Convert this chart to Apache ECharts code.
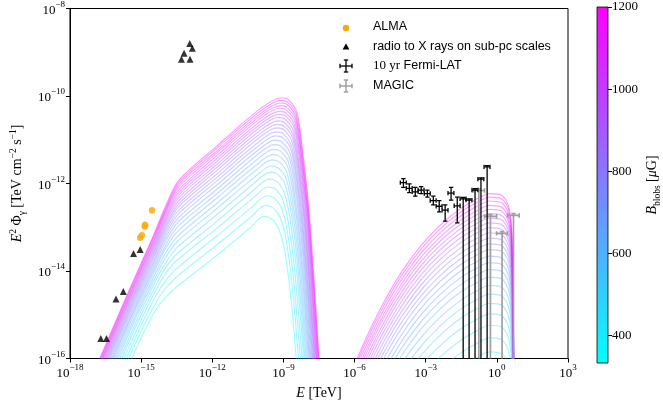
<!DOCTYPE html>
<html><head><meta charset="utf-8">
<script src="https://cdn.jsdelivr.net/npm/echarts@6/dist/echarts.min.js"></script>
<style>html,body{margin:0;padding:0;background:#fff}#c{width:663px;height:405px}</style>
</head><body><div id="c"></div>
<script>
// ---------------- data (log10 values) ----------------
const xTicks = [-18, -15, -12, -9, -6, -3, 0, 3];
const yTicks = [-16, -14, -12, -10, -8];
const cbTicks = [400, 600, 800, 1000, 1200];
const cbRange = [333, 1200];
const bField = [333, 369, 405, 441, 478, 514, 550, 586, 622, 658, 694, 730, 766, 803, 839, 875, 911, 947, 983, 1019, 1055, 1091, 1128, 1164, 1200];

// synchrotron curves, one per B value: [log E, log E^2 Phi]
const syncCurves = [
[[-15.56,-16.2],[-14.86,-15.37],[-14.37,-14.88],[-14.03,-14.63],[-13.50,-14.36],[-11.8,-13.64],[-10.40,-13.01],[-9.84,-12.75],[-9.55,-12.79],[-9.25,-12.98],[-9.00,-13.39],[-8.71,-14.48],[-8.40,-16.4]],
[[-15.69,-16.2],[-14.93,-15.29],[-14.38,-14.73],[-14.02,-14.43],[-13.49,-14.13],[-11.8,-13.40],[-10.36,-12.76],[-9.77,-12.50],[-9.48,-12.54],[-9.17,-12.74],[-8.92,-13.19],[-8.63,-14.32],[-8.31,-16.4]],
[[-15.79,-16.2],[-14.98,-15.22],[-14.40,-14.59],[-14.01,-14.25],[-13.48,-13.93],[-11.8,-13.20],[-10.33,-12.54],[-9.71,-12.28],[-9.42,-12.32],[-9.11,-12.52],[-8.86,-13.02],[-8.57,-14.19],[-8.23,-16.4]],
[[-15.89,-16.2],[-15.03,-15.16],[-14.41,-14.47],[-14.01,-14.09],[-13.48,-13.75],[-11.8,-13.02],[-10.30,-12.34],[-9.65,-12.08],[-9.36,-12.12],[-9.05,-12.34],[-8.80,-12.87],[-8.51,-14.06],[-8.16,-16.4]],
[[-15.98,-16.2],[-15.08,-15.10],[-14.42,-14.37],[-14.00,-13.95],[-13.47,-13.60],[-11.8,-12.86],[-10.27,-12.16],[-9.61,-11.90],[-9.32,-11.94],[-8.99,-12.17],[-8.74,-12.74],[-8.45,-13.95],[-8.10,-16.4]],
[[-16.06,-16.2],[-15.12,-15.05],[-14.43,-14.27],[-13.99,-13.83],[-13.46,-13.45],[-11.8,-12.71],[-10.25,-12.00],[-9.56,-11.74],[-9.27,-11.78],[-8.94,-12.01],[-8.69,-12.61],[-8.40,-13.86],[-8.05,-16.4]],
[[-16.13,-16.2],[-15.16,-15.00],[-14.43,-14.18],[-13.99,-13.71],[-13.46,-13.32],[-11.8,-12.57],[-10.23,-11.86],[-9.52,-11.60],[-9.23,-11.64],[-8.90,-11.87],[-8.65,-12.50],[-8.36,-13.76],[-8.00,-16.4]],
[[-16.20,-16.2],[-15.19,-14.96],[-14.44,-14.10],[-13.98,-13.60],[-13.45,-13.20],[-11.8,-12.45],[-10.21,-11.72],[-9.48,-11.46],[-9.19,-11.50],[-8.86,-11.74],[-8.61,-12.40],[-8.32,-13.68],[-7.95,-16.4]],
[[-16.26,-16.2],[-15.23,-14.92],[-14.45,-14.02],[-13.98,-13.50],[-13.45,-13.09],[-11.8,-12.33],[-10.19,-11.60],[-9.45,-11.34],[-9.16,-11.38],[-8.82,-11.62],[-8.57,-12.30],[-8.28,-13.60],[-7.90,-16.4]],
[[-16.32,-16.2],[-15.26,-14.88],[-14.45,-13.95],[-13.97,-13.41],[-13.44,-12.98],[-11.8,-12.23],[-10.17,-11.48],[-9.42,-11.22],[-9.13,-11.26],[-8.79,-11.51],[-8.54,-12.21],[-8.25,-13.53],[-7.86,-16.4]],
[[-16.37,-16.2],[-15.28,-14.85],[-14.46,-13.89],[-13.97,-13.32],[-13.44,-12.88],[-11.8,-12.13],[-10.16,-11.37],[-9.39,-11.11],[-9.10,-11.15],[-8.75,-11.41],[-8.50,-12.13],[-8.21,-13.46],[-7.83,-16.4]],
[[-16.42,-16.2],[-15.31,-14.82],[-14.47,-13.83],[-13.97,-13.24],[-13.44,-12.79],[-11.8,-12.03],[-10.14,-11.27],[-9.36,-11.01],[-9.07,-11.05],[-8.72,-11.31],[-8.47,-12.05],[-8.18,-13.40],[-7.79,-16.4]],
[[-16.47,-16.2],[-15.34,-14.79],[-14.47,-13.77],[-13.96,-13.16],[-13.43,-12.70],[-11.8,-11.94],[-10.13,-11.17],[-9.33,-10.91],[-9.04,-10.95],[-8.69,-11.21],[-8.44,-11.97],[-8.15,-13.34],[-7.75,-16.4]],
[[-16.52,-16.2],[-15.36,-14.76],[-14.48,-13.71],[-13.96,-13.09],[-13.43,-12.62],[-11.8,-11.86],[-10.11,-11.08],[-9.31,-10.82],[-9.02,-10.86],[-8.67,-11.13],[-8.42,-11.90],[-8.13,-13.28],[-7.72,-16.4]],
[[-16.56,-16.2],[-15.38,-14.73],[-14.48,-13.66],[-13.96,-13.02],[-13.43,-12.54],[-11.8,-11.78],[-10.10,-10.99],[-9.28,-10.73],[-8.99,-10.77],[-8.64,-11.04],[-8.39,-11.83],[-8.10,-13.23],[-7.69,-16.4]],
[[-16.60,-16.2],[-15.40,-14.70],[-14.49,-13.61],[-13.95,-12.95],[-13.42,-12.47],[-11.8,-11.70],[-10.09,-10.91],[-9.26,-10.65],[-8.97,-10.69],[-8.61,-10.96],[-8.36,-11.77],[-8.07,-13.18],[-7.66,-16.4]],
[[-16.64,-16.2],[-15.42,-14.68],[-14.49,-13.56],[-13.95,-12.89],[-13.42,-12.40],[-11.8,-11.63],[-10.08,-10.83],[-9.24,-10.57],[-8.95,-10.61],[-8.59,-10.89],[-8.34,-11.71],[-8.05,-13.13],[-7.64,-16.4]],
[[-16.68,-16.2],[-15.44,-14.65],[-14.49,-13.51],[-13.95,-12.83],[-13.42,-12.33],[-11.8,-11.56],[-10.07,-10.75],[-9.22,-10.49],[-8.93,-10.53],[-8.57,-10.81],[-8.32,-11.65],[-8.03,-13.08],[-7.61,-16.4]],
[[-16.71,-16.2],[-15.46,-14.63],[-14.50,-13.47],[-13.94,-12.77],[-13.41,-12.26],[-11.8,-11.49],[-10.06,-10.68],[-9.19,-10.42],[-8.90,-10.46],[-8.54,-10.74],[-8.29,-11.59],[-8.00,-13.04],[-7.58,-16.4]],
[[-16.75,-16.2],[-15.48,-14.61],[-14.50,-13.43],[-13.94,-12.72],[-13.41,-12.20],[-11.8,-11.43],[-10.05,-10.61],[-9.18,-10.35],[-8.89,-10.39],[-8.52,-10.68],[-8.27,-11.54],[-7.98,-12.99],[-7.56,-16.4]],
[[-16.78,-16.2],[-15.50,-14.59],[-14.51,-13.39],[-13.94,-12.66],[-13.41,-12.14],[-11.8,-11.36],[-10.04,-10.54],[-9.16,-10.28],[-8.87,-10.32],[-8.50,-10.61],[-8.25,-11.49],[-7.96,-12.95],[-7.54,-16.4]],
[[-16.81,-16.2],[-15.51,-14.57],[-14.51,-13.35],[-13.94,-12.61],[-13.41,-12.08],[-11.8,-11.30],[-10.03,-10.48],[-9.14,-10.22],[-8.85,-10.26],[-8.48,-10.55],[-8.23,-11.44],[-7.94,-12.91],[-7.51,-16.4]],
[[-16.84,-16.2],[-15.53,-14.55],[-14.51,-13.31],[-13.93,-12.56],[-13.40,-12.02],[-11.8,-11.25],[-10.02,-10.42],[-9.12,-10.16],[-8.83,-10.20],[-8.47,-10.49],[-8.22,-11.39],[-7.93,-12.87],[-7.49,-16.4]],
[[-16.87,-16.2],[-15.55,-14.53],[-14.52,-13.27],[-13.93,-12.52],[-13.40,-11.97],[-11.8,-11.19],[-10.01,-10.36],[-9.11,-10.10],[-8.82,-10.14],[-8.45,-10.43],[-8.20,-11.34],[-7.91,-12.84],[-7.47,-16.4]],
[[-16.90,-16.2],[-15.56,-14.51],[-14.52,-13.24],[-13.93,-12.47],[-13.40,-11.92],[-11.8,-11.14],[-10.00,-10.30],[-9.09,-10.04],[-8.80,-10.08],[-8.43,-10.38],[-8.18,-11.30],[-7.89,-12.80],[-7.45,-16.4]]
];

// inverse-Compton curves: shared log E grid, one log flux row per B value
const icE = [-6.1, -5.5, -4.8, -4.0, -3.2, -2.4, -1.6, -0.9, -0.3, 0.2, 0.45, 0.58, 0.65, 0.69, 0.73];
const icCurves = [
[-20.27,-19.52,-18.75,-18.01,-17.42,-16.96,-16.60,-16.37,-16.23,-16.27,-16.46,-16.77,-17.39,-18.88,-20.52],
[-19.89,-19.14,-18.37,-17.63,-17.04,-16.58,-16.22,-15.99,-15.85,-15.89,-16.08,-16.39,-17.01,-18.50,-20.14],
[-19.57,-18.82,-18.05,-17.31,-16.72,-16.26,-15.90,-15.67,-15.53,-15.57,-15.76,-16.07,-16.69,-18.18,-19.82],
[-19.28,-18.53,-17.76,-17.02,-16.43,-15.97,-15.61,-15.38,-15.24,-15.28,-15.47,-15.78,-16.40,-17.89,-19.53],
[-19.02,-18.27,-17.50,-16.76,-16.17,-15.71,-15.35,-15.12,-14.98,-15.02,-15.21,-15.52,-16.14,-17.63,-19.27],
[-18.78,-18.03,-17.26,-16.52,-15.93,-15.47,-15.11,-14.88,-14.74,-14.78,-14.97,-15.28,-15.90,-17.39,-19.03],
[-18.57,-17.82,-17.05,-16.31,-15.72,-15.26,-14.90,-14.67,-14.53,-14.57,-14.76,-15.07,-15.69,-17.18,-18.82],
[-18.37,-17.62,-16.85,-16.11,-15.52,-15.06,-14.70,-14.47,-14.33,-14.37,-14.56,-14.87,-15.49,-16.98,-18.62],
[-18.18,-17.43,-16.66,-15.92,-15.33,-14.87,-14.51,-14.28,-14.14,-14.18,-14.37,-14.68,-15.30,-16.79,-18.43],
[-18.01,-17.26,-16.49,-15.75,-15.16,-14.70,-14.34,-14.11,-13.97,-14.01,-14.20,-14.51,-15.13,-16.62,-18.26],
[-17.85,-17.10,-16.33,-15.59,-15.00,-14.54,-14.18,-13.95,-13.81,-13.85,-14.04,-14.35,-14.97,-16.46,-18.10],
[-17.70,-16.95,-16.18,-15.44,-14.85,-14.39,-14.03,-13.80,-13.66,-13.70,-13.89,-14.20,-14.82,-16.31,-17.95],
[-17.55,-16.80,-16.03,-15.29,-14.70,-14.24,-13.88,-13.65,-13.51,-13.55,-13.74,-14.05,-14.67,-16.16,-17.80],
[-17.42,-16.67,-15.90,-15.16,-14.57,-14.11,-13.75,-13.52,-13.38,-13.42,-13.61,-13.92,-14.54,-16.03,-17.67],
[-17.29,-16.54,-15.77,-15.03,-14.44,-13.98,-13.62,-13.39,-13.25,-13.29,-13.48,-13.79,-14.41,-15.90,-17.54],
[-17.17,-16.42,-15.65,-14.91,-14.32,-13.86,-13.50,-13.27,-13.13,-13.17,-13.36,-13.67,-14.29,-15.78,-17.42],
[-17.05,-16.30,-15.53,-14.79,-14.20,-13.74,-13.38,-13.15,-13.01,-13.05,-13.24,-13.55,-14.17,-15.66,-17.30],
[-16.94,-16.19,-15.42,-14.68,-14.09,-13.63,-13.27,-13.04,-12.90,-12.94,-13.13,-13.44,-14.06,-15.55,-17.19],
[-16.83,-16.08,-15.31,-14.57,-13.98,-13.52,-13.16,-12.93,-12.79,-12.83,-13.02,-13.33,-13.95,-15.44,-17.08],
[-16.73,-15.98,-15.21,-14.47,-13.88,-13.42,-13.06,-12.83,-12.69,-12.73,-12.92,-13.23,-13.85,-15.34,-16.98],
[-16.63,-15.88,-15.11,-14.37,-13.78,-13.32,-12.96,-12.73,-12.59,-12.63,-12.82,-13.13,-13.75,-15.24,-16.88],
[-16.54,-15.79,-15.02,-14.28,-13.69,-13.23,-12.87,-12.64,-12.50,-12.54,-12.73,-13.04,-13.66,-15.15,-16.79],
[-16.44,-15.69,-14.92,-14.18,-13.59,-13.13,-12.77,-12.54,-12.40,-12.44,-12.63,-12.94,-13.56,-15.05,-16.69],
[-16.35,-15.60,-14.83,-14.09,-13.50,-13.04,-12.68,-12.45,-12.31,-12.35,-12.54,-12.85,-13.47,-14.96,-16.60],
[-16.27,-15.52,-14.75,-14.01,-13.42,-12.96,-12.60,-12.37,-12.23,-12.27,-12.46,-12.77,-13.39,-14.88,-16.52]
];

// ALMA points
const almaE = [-15.04, -14.97, -14.85, -14.83, -14.54];
const almaY = [-13.24, -13.18, -12.98, -12.94, -12.61];
// radio to X rays on sub-pc scales
const triE = [-16.70, -16.46, -16.06, -15.75, -15.32, -15.04, -12.95, -12.84, -13.19, -13.30, -12.94];
const triY = [-15.54, -15.54, -14.64, -14.47, -13.60, -13.51, -8.80, -8.91, -9.02, -9.16, -9.16];
// 10 yr Fermi-LAT (-99 = lower bound at zero)
const fermiE   = [-3.94, -3.69, -3.44, -3.19, -2.93, -2.68, -2.43, -2.18, -1.93, -1.67, -1.42, -1.17, -0.92, -0.67, -0.41];
const fermiElo = [-4.07, -3.82, -3.57, -3.32, -3.06, -2.81, -2.56, -2.31, -2.06, -1.80, -1.55, -1.30, -1.05, -0.80, -0.54];
const fermiEhi = [-3.82, -3.57, -3.32, -3.07, -2.81, -2.56, -2.31, -2.06, -1.81, -1.55, -1.30, -1.05, -0.80, -0.55, -0.29];
const fermiY   = [-11.98, -12.11, -12.19, -12.15, -12.23, -12.39, -12.52, -12.61, -12.22, -12.51, -12.35, -12.38, -12.15, -11.90, -11.62];
const fermiYlo = [-12.09, -12.21, -12.29, -12.23, -12.31, -12.49, -12.65, -12.86, -12.38, -12.90, -99, -99, -99, -99, -99];
const fermiYhi = [-11.89, -12.01, -12.09, -12.07, -12.15, -12.29, -12.39, -12.49, -12.09, -12.31, -12.32, -12.35, -12.12, -11.87, -11.59];
// MAGIC
const magicE   = [-0.76, -0.27, 0.22, 0.70];
const magicElo = [-1.00, -0.52, -0.01, 0.45];
const magicEhi = [-0.52, -0.01, 0.45, 0.94];
const magicY   = [-12.16, -12.75, -13.14, -12.73];
const magicYlo = [-99, -99, -99, -99];
const magicYhi = [-12.12, -12.71, -13.10, -12.69];

// ---------------- chart ----------------
const serif = '"Liberation Serif", "DejaVu Serif", serif';
const sans = '"Liberation Sans", Arial, sans-serif';
const chart = echarts.init(document.getElementById('c'), null, {renderer: 'canvas'});

function coolColor(b, alpha) {
  const t = (b - cbRange[0]) / (cbRange[1] - cbRange[0]);
  return 'rgba(' + Math.round(255 * t) + ',' + Math.round(255 * (1 - t)) + ',255,' + alpha + ')';
}
function powLabel(v) {
  const s = v < 0 ? '\u2212' + Math.abs(v) : String(v);
  return '{b|10}{s|' + s + '}';
}
const tickRich = {
  b: {fontFamily: serif, fontSize: 13, color: '#000', verticalAlign: 'bottom', lineHeight: 17},
  s: {fontFamily: serif, fontSize: 9, color: '#000', verticalAlign: 'top', lineHeight: 17}
};
const nameRich = {
  r: {fontFamily: serif, fontSize: 14, color: '#000', lineHeight: 19, verticalAlign: 'middle'},
  i: {fontFamily: serif, fontSize: 14, fontStyle: 'italic', color: '#000', lineHeight: 19, verticalAlign: 'middle'},
  sp: {fontFamily: serif, fontSize: 9.5, color: '#000', lineHeight: 19, verticalAlign: 'top'},
  sb: {fontFamily: serif, fontSize: 9.5, color: '#000', lineHeight: 19, verticalAlign: 'bottom'}
};

function errRender(color, lw) {
  return function (params, api) {
    const cs = params.coordSys;
    const x = api.value(0), y = api.value(1);
    const p = api.coord([x, y]);
    const pl = api.coord([api.value(2), y]);
    const ph = api.coord([api.value(3), y]);
    const bottom = cs.y + cs.height;
    const yl = Math.min(api.coord([x, api.value(4)])[1], bottom + 3);
    const yh = api.coord([x, api.value(5)])[1];
    const c = 2.2;
    const st = {stroke: color, lineWidth: lw, fill: null};
    return {type: 'group', children: [
      {type: 'line', shape: {x1: pl[0], y1: p[1], x2: ph[0], y2: p[1]}, style: st},
      {type: 'line', shape: {x1: pl[0], y1: p[1] - c, x2: pl[0], y2: p[1] + c}, style: st},
      {type: 'line', shape: {x1: ph[0], y1: p[1] - c, x2: ph[0], y2: p[1] + c}, style: st},
      {type: 'line', shape: {x1: p[0], y1: yl, x2: p[0], y2: yh}, style: st},
      {type: 'line', shape: {x1: p[0] - c, y1: yh, x2: p[0] + c, y2: yh}, style: st},
      {type: 'line', shape: {x1: p[0] - c, y1: yl, x2: p[0] + c, y2: yl}, style: st}
    ]};
  };
}

const lineAlpha = 0.38;
const series = [];
syncCurves.forEach(function (pts, i) {
  series.push({type: 'line', data: pts, showSymbol: false, symbol: 'none', smooth: 0.3,
    clip: true, silent: true, lineStyle: {width: 1.2, color: coolColor(bField[i], lineAlpha)}, z: 2, animation: false});
});
icCurves.forEach(function (row, i) {
  series.push({type: 'line', data: icE.map(function (e, k) { return [e, row[k]]; }), showSymbol: false, symbol: 'none',
    smooth: 0.3, clip: true, silent: true,
    lineStyle: {width: 1.2, color: coolColor(bField[i], lineAlpha)}, z: 2, animation: false});
});
series.push({type: 'custom', name: 'MAGIC', renderItem: errRender('#a0a0a0', 1.7), clip: true, z: 5,
  data: magicE.map(function (e, k) { return [e, magicY[k], magicElo[k], magicEhi[k], magicYlo[k], magicYhi[k]]; }), animation: false});
series.push({type: 'custom', name: '10 yr Fermi-LAT', renderItem: errRender('#000', 1.3), clip: true, z: 6,
  data: fermiE.map(function (e, k) { return [e, fermiY[k], fermiElo[k], fermiEhi[k], fermiYlo[k], fermiYhi[k]]; }), animation: false});
series.push({type: 'scatter', name: 'radio to X rays on sub-pc scales', symbol: 'triangle', symbolSize: 7,
  itemStyle: {color: '#000'}, data: triE.map(function (e, k) { return [e, triY[k]]; }), z: 7, animation: false});
series.push({type: 'scatter', name: 'ALMA', symbol: 'circle', symbolSize: 6.5,
  itemStyle: {color: '#FFA500'}, data: almaE.map(function (e, k) { return [e, almaY[k]]; }), z: 8, animation: false});
// colorbar
series.push({type: 'custom', xAxisIndex: 1, yAxisIndex: 1, data: [[0, cbRange[1]]], silent: true, animation: false,
  renderItem: function (params, api) {
    const cs = params.coordSys;
    return {type: 'rect', shape: {x: cs.x, y: cs.y, width: cs.width, height: cs.height},
      style: {fill: new echarts.graphic.LinearGradient(0, 1, 0, 0, [{offset: 0, color: '#00ffff'}, {offset: 1, color: '#ff00ff'}])}};
  }});

const legendRows = [
  {y: 27, text: 'ALMA'},
  {y: 46.5, text: 'radio to X rays on sub-pc scales'},
  {y: 66, text: '{s|10 yr} Fermi-LAT'},
  {y: 85.5, text: 'MAGIC'}
];
const graphics = [
  {type: 'circle', shape: {cx: 346, cy: 28, r: 3.2}, style: {fill: '#FFA500'}},
  {type: 'polygon', shape: {points: [[342.6, 49.5], [349.4, 49.5], [346, 43.5]]}, style: {fill: '#000'}}
];
function crossGraphic(cx, cy, color, lw) {
  const st = {stroke: color, lineWidth: lw};
  return [
    {type: 'line', shape: {x1: cx - 6, y1: cy, x2: cx + 6, y2: cy}, style: st},
    {type: 'line', shape: {x1: cx, y1: cy - 6, x2: cx, y2: cy + 6}, style: st},
    {type: 'line', shape: {x1: cx - 6, y1: cy - 2.2, x2: cx - 6, y2: cy + 2.2}, style: st},
    {type: 'line', shape: {x1: cx + 6, y1: cy - 2.2, x2: cx + 6, y2: cy + 2.2}, style: st},
    {type: 'line', shape: {x1: cx - 2.2, y1: cy - 6, x2: cx + 2.2, y2: cy - 6}, style: st},
    {type: 'line', shape: {x1: cx - 2.2, y1: cy + 6, x2: cx + 2.2, y2: cy + 6}, style: st}
  ];
}
crossGraphic(346, 66, '#000', 1.3).forEach(function (g) { graphics.push(g); });
crossGraphic(346, 86, '#a0a0a0', 1.5).forEach(function (g) { graphics.push(g); });
legendRows.forEach(function (r) {
  graphics.push({type: 'text', x: 373, y: r.y, style: {text: r.text, fill: '#000', font: '12.5px ' + sans,
    align: 'left', verticalAlign: 'middle', textAlign: 'left', textVerticalAlign: 'middle',
    rich: {s: {fontFamily: serif, fontSize: 13, fill: '#000', color: '#000'}}}});
});

chart.setOption({
  animation: false,
  backgroundColor: '#fff',
  grid: [
    {left: 65, top: 7, width: 503, height: 356, show: true, borderColor: '#000', borderWidth: 1, backgroundColor: 'transparent'},
    {left: 597, top: 7, width: 17, height: 356, show: true, borderColor: '#000', borderWidth: 0.8, backgroundColor: 'transparent', z: 10}
  ],
  xAxis: [
    {type: 'value', gridIndex: 0, min: xTicks[0], max: xTicks[xTicks.length - 1], interval: 3,
      axisLine: {show: true, onZero: false, lineStyle: {color: '#000', width: 1}},
      axisTick: {show: true, inside: false, length: 4, lineStyle: {color: '#000'}},
      splitLine: {show: false},
      axisLabel: {formatter: powLabel, rich: tickRich, margin: 5, showMinLabel: true, showMaxLabel: true},
      name: '{i|E}{r| [TeV]}', nameLocation: 'middle', nameGap: 25,
      nameTextStyle: {rich: nameRich}},
    {type: 'category', gridIndex: 1, data: ['cb'], show: false}
  ],
  yAxis: [
    {type: 'value', gridIndex: 0, min: yTicks[0], max: yTicks[yTicks.length - 1], interval: 2,
      axisLine: {show: true, onZero: false, lineStyle: {color: '#000', width: 1}},
      axisTick: {show: true, inside: false, length: 4, lineStyle: {color: '#000'}},
      splitLine: {show: false},
      axisLabel: {formatter: powLabel, rich: tickRich, margin: 5, showMinLabel: true, showMaxLabel: true},
      name: '{i|E}{sp|2}{r| Φ}{sb|γ}{r| [TeV cm}{sp|−2}{r| s}{sp|−1}{r|]}', nameLocation: 'middle', nameGap: 37, nameRotate: 90,
      nameTextStyle: {rich: nameRich}},
    {type: 'value', gridIndex: 1, min: cbRange[0], max: cbRange[1], position: 'right',
      axisLine: {show: false},
      axisTick: {show: true, inside: false, length: 4, lineStyle: {color: '#000'}, customValues: cbTicks},
      axisLabel: {customValues: cbTicks, formatter: function (v) { return String(v); }, fontFamily: serif, fontSize: 13, color: '#000', margin: 4},
      splitLine: {show: false},
      name: '{i|B}{sb|blobs}{r| [}{i|μ}{r|G]}', nameLocation: 'middle', nameGap: 35, nameRotate: 90,
      nameTextStyle: {rich: nameRich}}
  ],
  graphic: graphics,
  series: series
});
</script>
</body></html>
